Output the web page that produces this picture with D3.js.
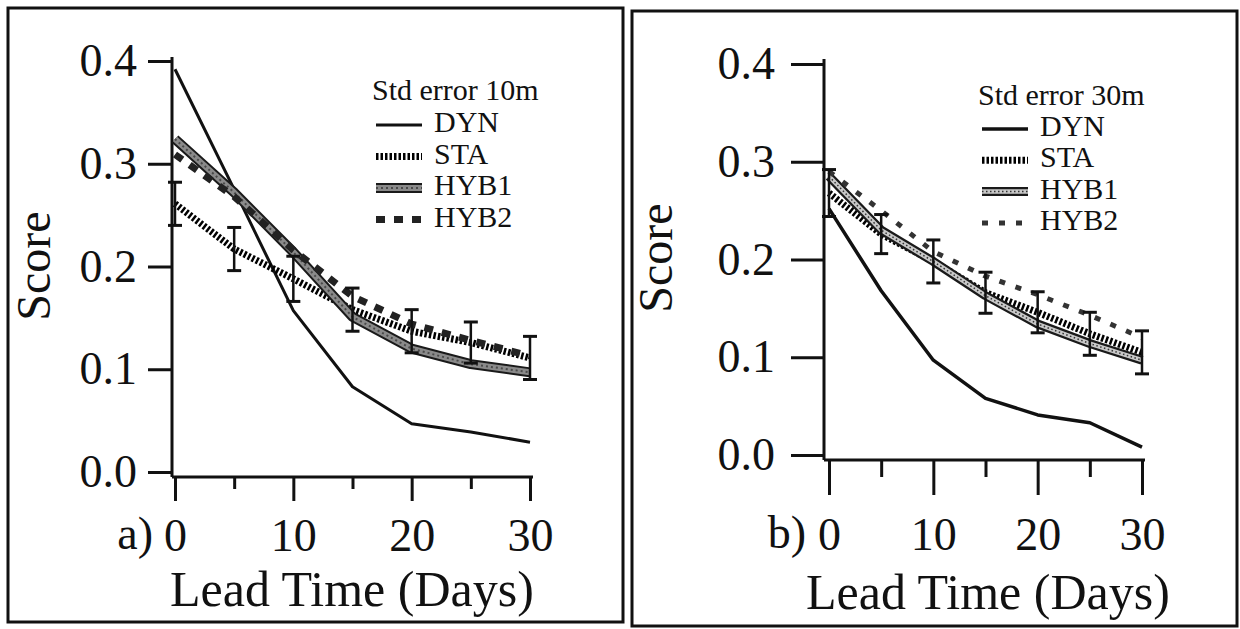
<!DOCTYPE html>
<html>
<head>
<meta charset="utf-8">
<script src="https://cdn.jsdelivr.net/npm/d3@7"></script>
<style>
  body { margin: 0; background: #fff; }
  svg { display: block; }
  text { font-family: "Liberation Serif", "Times New Roman", serif; fill: #111; }
</style>
</head>
<body>
<svg id="chart" width="1240" height="629"></svg>
<script>
// ---- data ----
var days = [0, 5, 10, 15, 20, 25, 30];
var yTickValues = [0, 0.1, 0.2, 0.3, 0.4];
var xMajorTicks = [0, 10, 20, 30];
var xMinorTicks = [5, 15, 25];
var seriesNames = ["DYN", "STA", "HYB1", "HYB2"];
var legendTitles = ["Std error 10m", "Std error 30m"];
var panelTags = ["a)", "b)"];
var xTitle = "Lead Time (Days)";
var yTitle = "Score";

// panel a (10m)
var dynA  = [0.392, 0.275, 0.157, 0.083, 0.047, 0.039, 0.029];
var staA  = [0.261, 0.217, 0.188, 0.158, 0.137, 0.126, 0.111];
var hyb1A = [0.324, 0.272, 0.214, 0.151, 0.120, 0.105, 0.097];
var hyb2A = [0.309, 0.268, 0.216, 0.171, 0.144, 0.128, 0.113];
var errA  = [0.021, 0.021, 0.022, 0.021, 0.021, 0.020, 0.021];

// panel b (30m)
var dynB  = [0.252, 0.168, 0.097, 0.058, 0.041, 0.033, 0.008];
var staB  = [0.268, 0.226, 0.198, 0.166, 0.146, 0.124, 0.105];
var hyb1B = [0.285, 0.230, 0.198, 0.163, 0.134, 0.114, 0.097];
var hyb2B = [0.290, 0.250, 0.208, 0.183, 0.164, 0.143, 0.120];
var errB  = [0.024, 0.020, 0.022, 0.021, 0.021, 0.022, 0.022];

// ---- layout ----
var svg = d3.select("#chart");

var panels = [
  { series: [dynA, staA, hyb1A, hyb2A], err: errA,
    frame: [8, 8, 615, 614], xr: [175, 530], yr: [472, 61],
    axisX: 172, axisTop: 57, xAxisY: 477,
    yTick: 24, yPad: 11, xMajor: 24, xMinor: 12, xPad: 17,
    tagX: 153, tagY: 549, xTitleX: 170, xTitleY: 606, yTitleX: 50, yTitleY: 266,
    leg: { x: 372, y: 100, lx0: 376, lx1: 422, tx: 434, y0: 132, step: 31.5 },
    styles: [
      [{ c: "#111", w: 3 }],
      [{ c: "#000", w: 7, d: "2.5 2" }],
      [{ c: "#1a1a1a", w: 10 }, { c: "#8a8a8a", w: 6 }, { c: "#4a4a4a", w: 2, d: "2 3" }],
      [{ c: "#222", w: 7, d: "9 9" }]
    ] },
  { series: [dynB, staB, hyb1B, hyb2B], err: errB,
    frame: [632, 11, 605, 615], xr: [829, 1142], yr: [455, 64],
    axisX: 824, axisTop: 59, xAxisY: 460,
    yTick: 33, yPad: 16, xMajor: 35, xMinor: 17, xPad: 22,
    tagX: 806, tagY: 548, xTitleX: 806, xTitleY: 609, yTitleX: 672, yTitleY: 258,
    leg: { x: 978, y: 105, lx0: 982, lx1: 1028, tx: 1040, y0: 136, step: 31.3 },
    styles: [
      [{ c: "#111", w: 3.5 }],
      [{ c: "#000", w: 7, d: "2.5 2" }],
      [{ c: "#1a1a1a", w: 9 }, { c: "#c8c8c8", w: 4.5 }, { c: "#333", w: 1.5, d: "1.5 2.5" }],
      [{ c: "#333", w: 5, d: "6 11" }]
    ] }
];

panels.forEach(function (p, i) {
  var g = svg.append("g");

  g.append("rect")
    .attr("x", p.frame[0]).attr("y", p.frame[1])
    .attr("width", p.frame[2]).attr("height", p.frame[3])
    .attr("fill", "none").attr("stroke", "#111").attr("stroke-width", 3);

  var x = d3.scaleLinear().domain([0, 30]).range(p.xr);
  var y = d3.scaleLinear().domain([0, 0.4]).range(p.yr);

  // y axis
  var yAxis = d3.axisLeft(y).tickValues(yTickValues).tickFormat(d3.format(".1f"))
    .tickSize(p.yTick).tickSizeOuter(0).tickPadding(p.yPad);
  var gy = g.append("g").attr("transform", "translate(" + p.axisX + ",0)").call(yAxis);
  gy.select(".domain").remove();
  gy.selectAll("line").attr("stroke", "#111").attr("stroke-width", 3);
  gy.selectAll("text").attr("font-size", 46).attr("font-family", "Liberation Serif, serif").attr("fill", "#111");

  g.append("line")
    .attr("x1", p.axisX).attr("x2", p.axisX)
    .attr("y1", p.axisTop).attr("y2", p.xAxisY)
    .attr("stroke", "#111").attr("stroke-width", 3);

  // x axis
  var gx = g.append("g").attr("transform", "translate(0," + p.xAxisY + ")");
  gx.call(d3.axisBottom(x).tickValues(xMajorTicks).tickSize(p.xMajor).tickSizeOuter(0).tickPadding(p.xPad));
  gx.select(".domain").remove();
  var gxm = g.append("g").attr("transform", "translate(0," + p.xAxisY + ")");
  gxm.call(d3.axisBottom(x).tickValues(xMinorTicks).tickSize(p.xMinor).tickSizeOuter(0).tickFormat(""));
  gxm.select(".domain").remove();
  g.selectAll(".tick line").attr("stroke", "#111").attr("stroke-width", 3);
  gx.selectAll("text").attr("font-size", 46).attr("font-family", "Liberation Serif, serif").attr("fill", "#111");

  g.append("line")
    .attr("x1", p.axisX).attr("x2", x(30) + 3)
    .attr("y1", p.xAxisY).attr("y2", p.xAxisY)
    .attr("stroke", "#111").attr("stroke-width", 3);

  // titles
  g.append("text").attr("x", p.tagX).attr("y", p.tagY)
    .attr("text-anchor", "end").attr("font-size", 46).text(panelTags[i]);
  g.append("text").attr("x", p.xTitleX).attr("y", p.xTitleY)
    .attr("font-size", 50).text(xTitle);
  g.append("text")
    .attr("transform", "translate(" + p.yTitleX + "," + p.yTitleY + ") rotate(-90)")
    .attr("text-anchor", "middle").attr("font-size", 48).text(yTitle);

  // series
  var line = d3.line()
    .x(function (d, k) { return x(days[k]); })
    .y(function (d) { return y(d); });

  p.series.forEach(function (vals, s) {
    p.styles[s].forEach(function (st) {
      g.append("path").datum(vals)
        .attr("d", line)
        .attr("fill", "none")
        .attr("stroke", st.c)
        .attr("stroke-width", st.w)
        .attr("stroke-dasharray", st.d || null)
        .attr("stroke-linejoin", "round");
    });
  });

  // error bars around STA
  var sta = p.series[1];
  var eb = g.append("g").selectAll("g").data(days).enter().append("g");
  eb.append("line")
    .attr("x1", function (d) { return x(d); }).attr("x2", function (d) { return x(d); })
    .attr("y1", function (d, k) { return y(sta[k] + p.err[k]); })
    .attr("y2", function (d, k) { return y(sta[k] - p.err[k]); })
    .attr("stroke", "#111").attr("stroke-width", 2.5);
  [1, -1].forEach(function (sgn) {
    eb.append("line")
      .attr("x1", function (d) { return x(d) - 7; }).attr("x2", function (d) { return x(d) + 7; })
      .attr("y1", function (d, k) { return y(sta[k] + sgn * p.err[k]); })
      .attr("y2", function (d, k) { return y(sta[k] + sgn * p.err[k]); })
      .attr("stroke", "#111").attr("stroke-width", 3);
  });

  // legend
  var L = p.leg;
  g.append("text").attr("x", L.x).attr("y", L.y).attr("font-size", 30).text(legendTitles[i]);
  seriesNames.forEach(function (name, s) {
    var by = L.y0 + s * L.step;
    p.styles[s].forEach(function (st) {
      g.append("line")
        .attr("x1", L.lx0).attr("x2", L.lx1)
        .attr("y1", by - 7).attr("y2", by - 7)
        .attr("stroke", st.c).attr("stroke-width", st.w)
        .attr("stroke-dasharray", st.d || null);
    });
    g.append("text").attr("x", L.tx).attr("y", by).attr("font-size", 30).text(name);
  });
});
</script>
</body>
</html>
